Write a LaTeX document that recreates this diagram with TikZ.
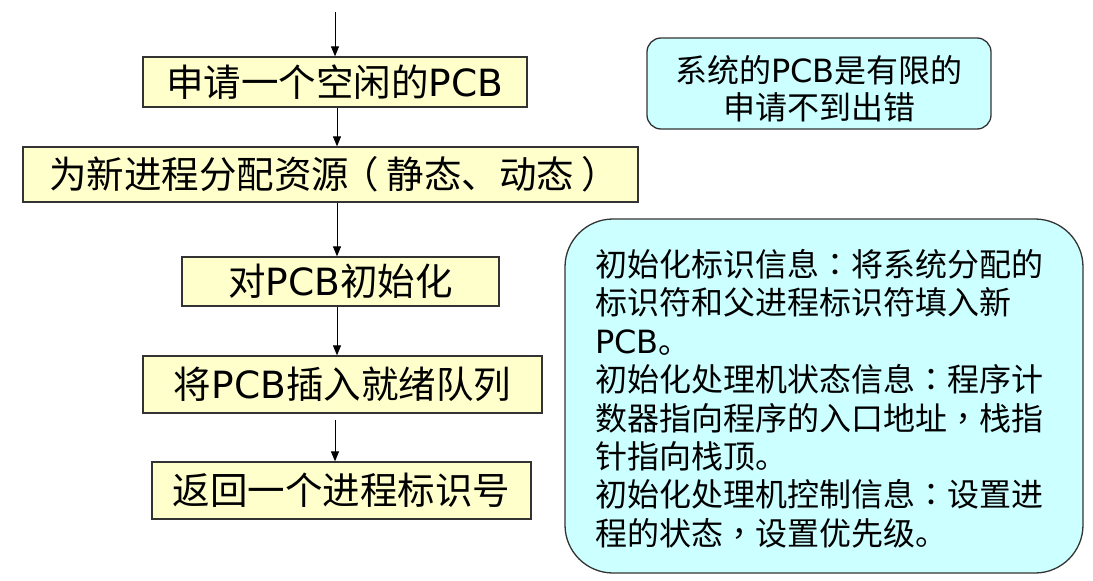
\documentclass[tikz,border=0pt]{standalone}
\usepackage{fontspec}
\newfontfamily\cjk{Noto Sans CJK SC}
\newfontfamily\cjktc{Noto Sans CJK TC}
\newfontfamily\lat{DejaVu Sans}
\newcommand\pcbt{{\lat PCB}}
\newcommand\qcolon{{\cjktc ：}}
\newcommand\qcomma{{\cjktc ，}}
\newcommand\lparen{\kern-0.2em（\kern0.2em}
\newcommand\rparen{\kern0.2em）\kern-0.2em}
\usetikzlibrary{arrows.meta}
\definecolor{boxyellow}{HTML}{FFFFCC}
\definecolor{boxcyan}{HTML}{CCFFFF}
\definecolor{edge}{HTML}{333333}
\tikzset{
  stepbox/.style={draw=edge, line width=1.3pt, fill=boxyellow, inner sep=0pt,
    font=\cjk\fontsize{37.5}{40}\selectfont, anchor=center},
  notebox/.style={draw=edge, line width=1.3pt, fill=boxcyan, inner sep=0pt},
  arr/.style={draw=black, line width=1pt, -{Triangle[length=10pt,width=8pt]}},
}
\begin{document}
\begin{tikzpicture}[x=1pt,y=-1pt]
\useasboundingbox (0,0) rectangle (1093,581);
% main flow boxes
\node[stepbox, minimum width=384pt, minimum height=50pt] (b1) at (335,82) {申请一个空闲的\pcbt};
\node[stepbox, minimum width=615pt, minimum height=55pt] (b2) at (330.5,174.5) {为新进程分配资源\lparen 静态、动态\rparen};
\node[stepbox, minimum width=317pt, minimum height=49pt] (b3) at (340.5,281.5) {对\pcbt 初始化};
\node[stepbox, minimum width=399pt, minimum height=57pt] (b4) at (342.5,384.5) {将\pcbt 插入就绪队列};
\node[stepbox, minimum width=379pt, minimum height=57pt] (b5) at (341.5,490.5) {返回一个进程标识号};
% connectors
\coordinate (start) at (335,12);
\draw[arr] (start) -- (start |- b1.north);
\draw[arr] (b1.south -| 337,0) -- (337,0 |- b2.north);
\draw[arr] (b2.south -| 337,0) -- (337,0 |- b3.north);
\draw[arr] (b3.south -| 337,0) -- (337,0 |- b4.north);
\draw[arr, shorten <=6pt] (b4.south -| 335,0) -- (335,0 |- b5.north);
% note boxes
\node[notebox, rounded corners=14pt, minimum width=344pt, minimum height=91pt] (n1) at (819,83.5) {};
\node[font=\cjk\fontsize{32}{37}\selectfont, align=center, inner sep=0pt] (t1) at (819,88.5)
  {系统的\pcbt 是有限的\\申请不到出错};
\node[notebox, rounded corners=48pt, minimum width=518pt, minimum height=354pt] (n2) at (824,396) {};
\node[font=\cjk\fontsize{32}{38.4}\selectfont, align=left, inner sep=0pt, anchor=north west] (t2) at (595,249)
  {初始化标识信息\qcolon 将系统分配的\\
   标识符和父进程标识符填入新\\
   \pcbt。\\
   初始化处理机状态信息\qcolon 程序计\\
   数器指向程序的入口地址\qcomma 栈指\\
   针指向栈顶。\\
   初始化处理机控制信息\qcolon 设置进\\
   程的状态\qcomma 设置优先级。};
\end{tikzpicture}
\end{document}
